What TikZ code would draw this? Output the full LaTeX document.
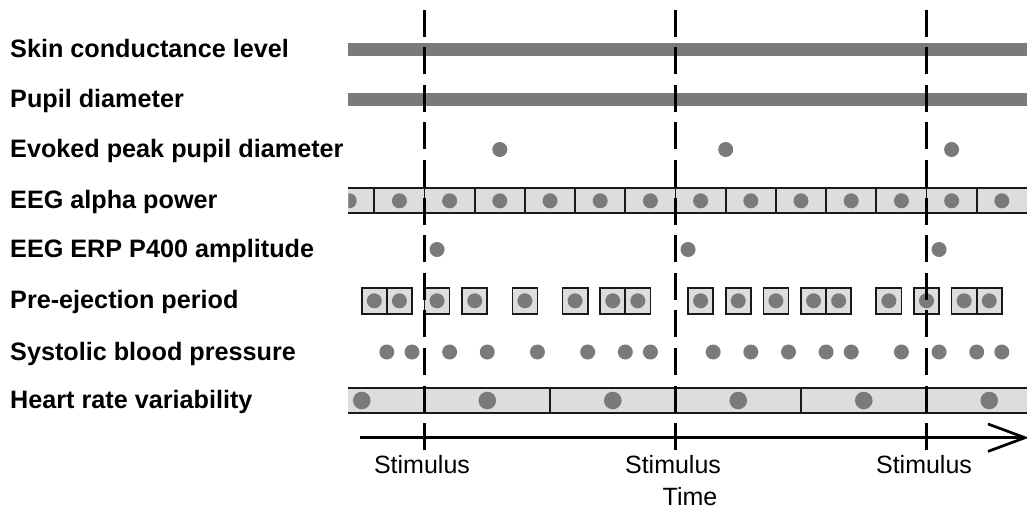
\documentclass[tikz,border=0pt]{standalone}
\usepackage{fontspec}
\setmainfont{Liberation Sans}
\definecolor{dotgray}{RGB}{122,122,122}
\definecolor{boxgray}{RGB}{221,221,221}
\definecolor{edgegray}{RGB}{25,25,25}
\begin{document}
\begin{tikzpicture}[x=1pt,y=-1pt,
  lab/.style={anchor=base west, inner sep=0pt, font=\fontsize{25.2}{29}\selectfont\bfseries},
  stimlab/.style={anchor=base, inner sep=0pt, font=\fontsize{25}{29}\selectfont},
  dot/.style={fill=dotgray},
  bar/.style={fill=dotgray},
  boxfill/.style={fill=boxgray},
  edge/.style={draw=edgegray, line width=1.7pt},
  cell/.style={draw=edgegray, line width=1.7pt, fill=boxgray},
  stimline/.style={draw=black, line width=2.7pt, dash pattern=on 27pt off 10.6pt},
  axis/.style={draw=black, line width=2.7pt},
]
\useasboundingbox (0,0) rectangle (1027,512);
\clip (0,0) rectangle (1027,512);

% labels
\node[lab] (l1) at (10,57.7) {Skin conductance level};
\node[lab] (l2) at (10,107.5) {Pupil diameter};
\node[lab] (l3) at (10,157.7) {Evoked peak pupil diameter};
\node[lab] (l4) at (10,208.5) {EEG alpha power};
\node[lab] (l5) at (10,257.5) {EEG ERP P400 amplitude};
\node[lab] (l6) at (10,308.5) {Pre-ejection period};
\node[lab] (l7) at (10,360) {Systolic blood pressure};
\node[lab] (l8) at (10,408.5) {Heart rate variability};

% continuous bars
\fill[bar] (348.3,43.3) rectangle (1030,56);
\fill[bar] (348.3,93) rectangle (1030,106);

% evoked peak pupil diameter
\foreach \k in {6,24,42}
  \fill[dot] ({424.5+12.55*\k},149.5) circle[radius=7.5pt];

% EEG alpha power
\fill[boxfill] (348.3,188.3) rectangle (1030,213.3);
\begin{scope}
  \clip (348.3,188.3) rectangle (1030,213.3);
  \foreach \k in {-6,-2,...,46}
    \fill[dot] ({424.5+12.55*\k},200.8) circle[radius=7.5pt];
\end{scope}
\draw[edge] (348.3,188.3) -- (1030,188.3);
\draw[edge] (348.3,213.3) -- (1030,213.3);
\foreach \k in {-4,0,...,44}
  \draw[edge] ({424.5+12.55*\k},188.3) -- ++(0,25);

% EEG ERP P400
\foreach \k in {1,21,41}
  \fill[dot] ({424.5+12.55*\k},249.5) circle[radius=7.5pt];

% pre-ejection period
\foreach \k in {-5,-3,0,3,7,11,14,16,21,24,27,30,32,36,39,42,44}{
  \draw[cell] ({424.5+12.55*\k},287.7) rectangle ++(25.1,26.3);
  \fill[dot] ({424.5+12.55*(\k+1)},300.8) circle[radius=7.5pt];
}

% systolic blood pressure
\foreach \k in {-3,-1,2,5,9,13,16,18,23,26,29,32,34,38,41,44,46}
  \fill[dot] ({424.5+12.55*\k},352) circle[radius=7.5pt];

% heart rate variability
\fill[boxfill] (348.3,388) rectangle (1030,413);
\draw[edge] (348.3,388) -- (1030,388);
\draw[edge] (348.3,413) -- (1030,413);
\foreach \k in {0,10,...,40}
  \draw[edge] ({424.5+12.55*\k},388) -- ++(0,25);
\foreach \k in {-5,5,...,45}
  \fill[dot] ({424.5+12.55*\k},400.5) circle[radius=8.8pt];

% time axis
\coordinate (axstart) at (360,437.7);
\coordinate (axend) at (1025,437.7);
\coordinate (armtop) at (988,424);
\coordinate (armbot) at (988,451.4);
\draw[axis] (axstart) -- (axend);
\draw[axis, line join=miter] (armtop) -- (axend) -- (armbot);

% stimulus lines
\foreach \s/\n in {424.5/a,675.5/b,926.5/c}{
  \coordinate (top\n) at (\s,9.5);
  \coordinate (bot\n) at (\s,450.1);
  \draw[stimline] (top\n) -- (bot\n);
  \node[stimlab] (stim\n) at (\s-2.5,473) {Stimulus};
}
\node[stimlab] (time) at (690,505) {Time};
\end{tikzpicture}
\end{document}
